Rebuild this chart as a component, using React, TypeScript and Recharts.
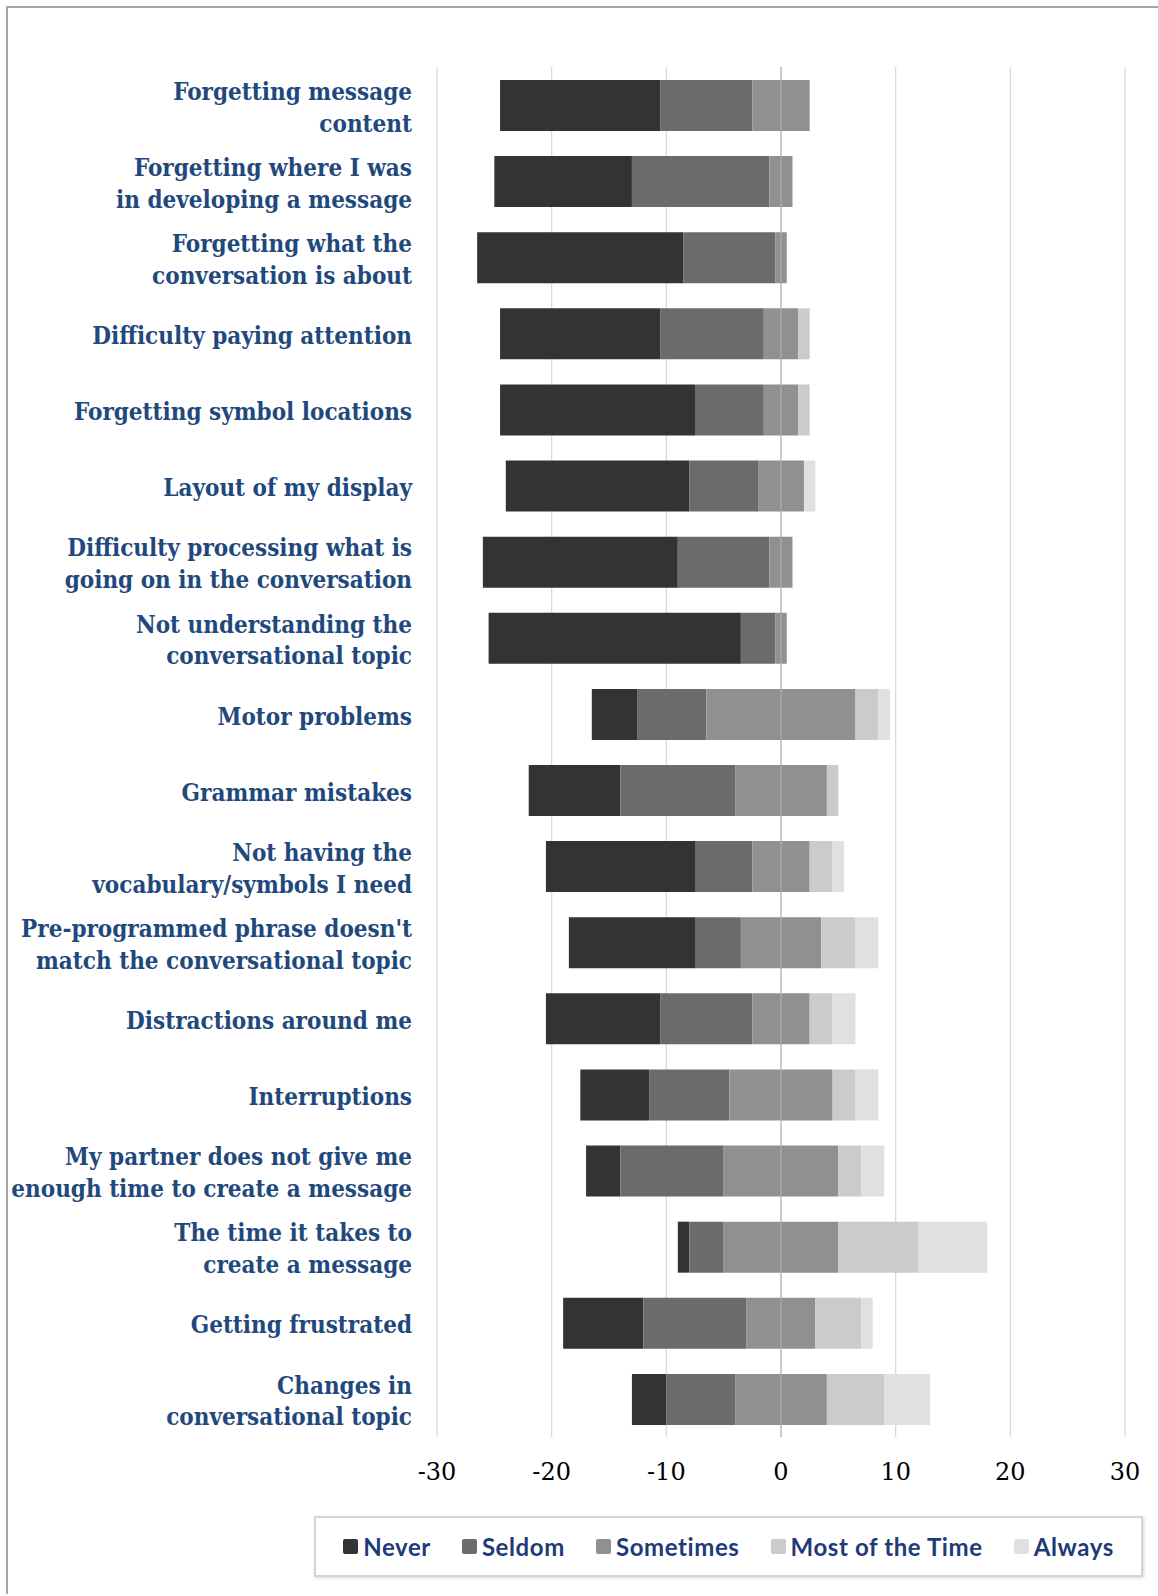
import { BarChart, Bar, XAxis, YAxis, CartesianGrid, ReferenceLine } from 'recharts';

const CATEGORIES = [
  'Forgetting message\ncontent',
  'Forgetting where I was\nin developing a message',
  'Forgetting what the\nconversation is about',
  'Difficulty paying attention',
  'Forgetting symbol locations',
  'Layout of my display',
  'Difficulty processing what is\ngoing on in the conversation',
  'Not understanding the\nconversational topic',
  'Motor problems',
  'Grammar mistakes',
  'Not having the\nvocabulary/symbols I need',
  "Pre-programmed phrase doesn't\nmatch the conversational topic",
  'Distractions around me',
  'Interruptions',
  'My partner does not give me\nenough time to create a message',
  'The time it takes to\ncreate a message',
  'Getting frustrated',
  'Changes in\nconversational topic',
];

const NEVER = [14, 12, 18, 14, 17, 16, 17, 22, 4, 8, 13, 11, 10, 6, 3, 1, 7, 3];
const SELDOM = [8, 12, 8, 9, 6, 6, 8, 3, 6, 10, 5, 4, 8, 7, 9, 3, 9, 6];
const SOMETIMES = [5, 2, 1, 3, 3, 4, 2, 1, 13, 8, 5, 7, 5, 9, 10, 10, 6, 8];
const MOST = [0, 0, 0, 1, 1, 0, 0, 0, 2, 1, 2, 3, 2, 2, 2, 7, 4, 5];
const ALWAYS = [0, 0, 0, 0, 0, 1, 0, 0, 1, 0, 1, 2, 2, 2, 2, 6, 1, 4];

const X_TICKS = [-30, -20, -10, 0, 10, 20, 30];

const SERIES = [
  { key: 'Never', color: '#333333' },
  { key: 'Seldom', color: '#6b6b6b' },
  { key: 'Sometimes', color: '#909090' },
  { key: 'Most of the Time', color: '#cbcbcb' },
  { key: 'Always', color: '#e0e0e0' },
];

// the "Sometimes" block is centred on zero, so each row starts at a hidden offset
const rows = CATEGORIES.map((name, i) => ({
  name,
  offset: -(NEVER[i] + SELDOM[i] + SOMETIMES[i] / 2),
  Never: NEVER[i],
  Seldom: SELDOM[i],
  Sometimes: SOMETIMES[i],
  'Most of the Time': MOST[i],
  Always: ALWAYS[i],
}));

const LABEL_FONT = "'DejaVu Serif Condensed', 'DejaVu Serif', serif";
const LINE_H = 31.8;

function CategoryTick({ x, y, payload }: any) {
  const lines = String(payload.value).split('\n');
  return (
    <text
      x={x}
      y={y}
      textAnchor="end"
      fill="#1F497D"
      fontFamily={LABEL_FONT}
      style={{ fontStretch: 'condensed' }}
      fontWeight={700}
      fontSize={24}
    >
      {lines.map((line, i) => (
        <tspan key={i} x={x} y={y + 2 + (i - (lines.length - 1) / 2) * LINE_H} dy="0.36em">
          {line}
        </tspan>
      ))}
    </text>
  );
}

export default function App() {
  return (
    <div
      style={{
        position: 'relative',
        margin: '6px 0 0 6px',
        width: 1150,
        height: 1586,
        borderLeft: '2px solid #a5a5a5',
        borderTop: '2px solid #a5a5a5',
        background: '#fff',
      }}
    >
      <style>{'body{margin:0}'}</style>
      <BarChart
        width={1150}
        height={1480}
        data={rows}
        layout="vertical"
        margin={{ top: 59, right: 33, bottom: 0, left: 0 }}
        barSize={51}
      >
        <CartesianGrid horizontal={false} stroke="#d9d9d9" strokeWidth={1.3} />
        <XAxis
          type="number"
          domain={[-30, 30]}
          ticks={X_TICKS}
          tickLine={false}
          axisLine={false}
          tickMargin={20}
          height={51}
          tick={{ fill: '#000', fontFamily: 'DejaVu Serif', fontSize: 24 }}
        />
        <YAxis
          type="category"
          dataKey="name"
          width={429}
          tickLine={false}
          axisLine={false}
          tickMargin={19}
          interval={0}
          tick={<CategoryTick />}
        />
        <Bar dataKey="offset" stackId="a" fill="transparent" legendType="none" isAnimationActive={false} />
        {SERIES.map((s) => (
          <Bar key={s.key} dataKey={s.key} stackId="a" fill={s.color} isAnimationActive={false} />
        ))}
        <ReferenceLine x={0} stroke="#b4b4b4" strokeOpacity={0.8} strokeWidth={1.3} />
      </BarChart>

      <div
        style={{
          position: 'absolute',
          left: 306,
          top: 1508,
          width: 825,
          height: 57,
          border: '2px solid #d4d4d4',
          boxShadow: '1px 1px 3px rgba(0,0,0,0.15)',
          display: 'flex',
          alignItems: 'center',
          justifyContent: 'center',
          gap: 31,
          fontFamily: 'Lato, sans-serif',
          fontWeight: 700,
          fontSize: 24,
          letterSpacing: 0.6,
          color: '#1F3A78',
        }}
      >
        {SERIES.map((s) => (
          <div key={s.key} style={{ display: 'flex', alignItems: 'center', gap: 5 }}>
            <span style={{ width: 15, height: 15, background: s.color, borderRadius: 2, display: 'inline-block' }} />
            <span>{s.key}</span>
          </div>
        ))}
      </div>
    </div>
  );
}
